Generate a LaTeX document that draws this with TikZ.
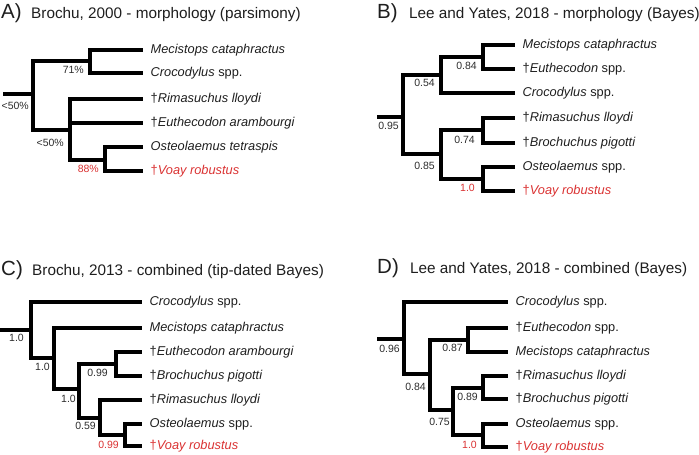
\documentclass[tikz,border=0pt]{standalone}
\usepackage{fontspec}
\setmainfont{Liberation Sans}
\definecolor{txt}{RGB}{30,30,30}
\definecolor{sup}{RGB}{45,45,45}
\definecolor{redv}{RGB}{218,50,50}
\tikzset{
  br/.style={line width=4.3pt,black,line join=miter},
  tip/.style={anchor=west,inner sep=0pt,xshift=7.5pt,text=txt,font=\fontsize{12.8}{14}\selectfont},
  tipred/.style={tip,text=redv},
  sv/.style={anchor=east,inner sep=0pt,text=sup,font=\fontsize{10.5}{12}\selectfont},
  svred/.style={sv,text=redv},
  ttl/.style={anchor=base west,inner sep=0pt,text=txt,font=\fontsize{15.3}{17}\selectfont},
  lett/.style={anchor=base west,inner sep=0pt,text=txt,font=\fontsize{20.5}{22}\selectfont},
}
\begin{document}
\begin{tikzpicture}[x=1pt,y=-1pt]
\useasboundingbox (0,0) rectangle (699,455);
% ---------------- Panel A ----------------
\node[lett] (LA) at (1,18) {A)};
\node[ttl] (TA) at (31,18) {Brochu, 2000 - morphology (parsimony)};
\coordinate (a0) at (3,94);
\coordinate (aR) at (33,94);
\coordinate (aT) at (90,61);
\coordinate (aT1) at (143,50);
\coordinate (aT2) at (143,73);
\coordinate (aB) at (70,130);
\coordinate (aB1) at (143,99);
\coordinate (aB2) at (143,123);
\coordinate (aBB) at (105,160);
\coordinate (aB3) at (143,147);
\coordinate (aB4) at (143,171);
\draw[br] (a0) -- (aR) |- (aT);
\draw[br] (aR) |- (aB);
\draw[br] (aT) |- (aT1);
\draw[br] (aT) |- (aT2);
\draw[br] (aB) |- (aB1);
\draw[br] (aB) |- (aB2);
\draw[br] (aB) |- (aBB);
\draw[br] (aBB) |- (aB3);
\draw[br] (aBB) |- (aB4);
\node[tip] (ta1) at (aT1) {\itshape Mecistops cataphractus};
\node[tip] (ta2) at (aT2) {\textit{Crocodylus} spp.};
\node[tip] (ta3) at (aB1) {†\textit{Rimasuchus lloydi}};
\node[tip] (ta4) at (aB2) {†\textit{Euthecodon arambourgi}};
\node[tip] (ta5) at (aB3) {\itshape Osteolaemus tetraspis};
\node[tipred] (ta6) at (aB4) {†\textit{Voay robustus}};
\node[sv] (sa1) at (84,70) {71\%};
\node[sv] (sa2) at (29,106) {<50\%};
\node[sv] (sa3) at (64,143) {<50\%};
\node[svred] (sa4) at (99,169) {88\%};
% ---------------- Panel B ----------------
\node[lett] (LB) at (377,18) {B)};
\node[ttl] (TB) at (409,18) {Lee and Yates, 2018 - morphology (Bayes)};
\coordinate (b0) at (377,117);
\coordinate (bR) at (403,117);
\coordinate (bT) at (441,75);
\coordinate (bTT) at (483,57);
\coordinate (bt1) at (515,45);
\coordinate (bt2) at (515,69);
\coordinate (bt3) at (515,93);
\coordinate (bB) at (441,154);
\coordinate (bB1) at (483,130);
\coordinate (bt4) at (515,118);
\coordinate (bt5) at (515,143);
\coordinate (bB2) at (483,179);
\coordinate (bt6) at (515,167);
\coordinate (bt7) at (515,191);
\draw[br] (b0) -- (bR) |- (bT);
\draw[br] (bR) |- (bB);
\draw[br] (bT) |- (bTT);
\draw[br] (bT) |- (bt3);
\draw[br] (bTT) |- (bt1);
\draw[br] (bTT) |- (bt2);
\draw[br] (bB) |- (bB1);
\draw[br] (bB) |- (bB2);
\draw[br] (bB1) |- (bt4);
\draw[br] (bB1) |- (bt5);
\draw[br] (bB2) |- (bt6);
\draw[br] (bB2) |- (bt7);
\node[tip] (tb1) at (bt1) {\itshape Mecistops cataphractus};
\node[tip] (tb2) at (bt2) {†\textit{Euthecodon} spp.};
\node[tip] (tb3) at (bt3) {\textit{Crocodylus} spp.};
\node[tip] (tb4) at (bt4) {†\textit{Rimasuchus lloydi}};
\node[tip] (tb5) at (bt5) {†\textit{Brochuchus pigotti}};
\node[tip] (tb6) at (bt6) {\textit{Osteolaemus} spp.};
\node[tipred] (tb7) at (bt7) {†\textit{Voay robustus}};
\node[sv] (sb1) at (477,66) {0.84};
\node[sv] (sb2) at (435,83) {0.54};
\node[sv] (sb3) at (399,126) {0.95};
\node[sv] (sb4) at (475,140) {0.74};
\node[sv] (sb5) at (435,166) {0.85};
\node[svred] (sb6) at (475,188) {1.0};
% ---------------- Panel C ----------------
\node[lett] (LC) at (1,275) {C)};
\node[ttl] (TC) at (32,275) {Brochu, 2013 - combined (tip-dated Bayes)};
\coordinate (c0) at (0,330);
\coordinate (cR) at (31,330);
\coordinate (ct1) at (142,302);
\coordinate (c1) at (54,358);
\coordinate (ct2) at (142,328);
\coordinate (c2) at (79,389);
\coordinate (c3) at (116,364);
\coordinate (ct3) at (142,352);
\coordinate (ct4) at (142,376);
\coordinate (c4) at (100,418);
\coordinate (ct5) at (142,400);
\coordinate (c5) at (125,435);
\coordinate (ct6) at (142,424);
\coordinate (ct7) at (142,446);
\draw[br] (c0) -- (cR) |- (ct1);
\draw[br] (cR) |- (c1);
\draw[br] (c1) |- (ct2);
\draw[br] (c1) |- (c2);
\draw[br] (c2) |- (c3);
\draw[br] (c2) |- (c4);
\draw[br] (c3) |- (ct3);
\draw[br] (c3) |- (ct4);
\draw[br] (c4) |- (ct5);
\draw[br] (c4) |- (c5);
\draw[br] (c5) |- (ct6);
\draw[br] (c5) |- (ct7);
\node[tip] (tc1) at (ct1) {\textit{Crocodylus} spp.};
\node[tip] (tc2) at (ct2) {\itshape Mecistops cataphractus};
\node[tip] (tc3) at (ct3) {†\textit{Euthecodon arambourgi}};
\node[tip] (tc4) at (ct4) {†\textit{Brochuchus pigotti}};
\node[tip] (tc5) at (ct5) {†\textit{Rimasuchus lloydi}};
\node[tip] (tc6) at (ct6) {\textit{Osteolaemus} spp.};
\node[tipred] (tc7) at (ct7) {†\textit{Voay robustus}};
\node[sv] (sc1) at (24,338) {1.0};
\node[sv] (sc2) at (50,367) {1.0};
\node[sv] (sc3) at (108,373) {0.99};
\node[sv] (sc4) at (76,399) {1.0};
\node[sv] (sc5) at (96,426) {0.59};
\node[svred] (sc6) at (119,445) {0.99};
% ---------------- Panel D ----------------
\node[lett] (LD) at (377,273) {D)};
\node[ttl] (TD) at (410,273) {Lee and Yates, 2018 - combined (Bayes)};
\coordinate (d0) at (377,339);
\coordinate (dR) at (404,339);
\coordinate (dt1) at (508,302);
\coordinate (d1) at (430,374);
\coordinate (d2) at (468,340);
\coordinate (dt2) at (508,328);
\coordinate (dt3) at (508,352);
\coordinate (d3) at (453,410);
\coordinate (d4) at (483,388);
\coordinate (dt4) at (508,376);
\coordinate (dt5) at (508,399);
\coordinate (d5) at (483,435);
\coordinate (dt6) at (508,424);
\coordinate (dt7) at (508,447);
\draw[br] (d0) -- (dR) |- (dt1);
\draw[br] (dR) |- (d1);
\draw[br] (d1) |- (d2);
\draw[br] (d1) |- (d3);
\draw[br] (d2) |- (dt2);
\draw[br] (d2) |- (dt3);
\draw[br] (d3) |- (d4);
\draw[br] (d3) |- (d5);
\draw[br] (d4) |- (dt4);
\draw[br] (d4) |- (dt5);
\draw[br] (d5) |- (dt6);
\draw[br] (d5) |- (dt7);
\node[tip] (td1) at (dt1) {\textit{Crocodylus} spp.};
\node[tip] (td2) at (dt2) {†\textit{Euthecodon} spp.};
\node[tip] (td3) at (dt3) {\itshape Mecistops cataphractus};
\node[tip] (td4) at (dt4) {†\textit{Rimasuchus lloydi}};
\node[tip] (td5) at (dt5) {†\textit{Brochuchus pigotti}};
\node[tip] (td6) at (dt6) {\textit{Osteolaemus} spp.};
\node[tipred] (td7) at (dt7) {†\textit{Voay robustus}};
\node[sv] (sd1) at (400,349) {0.96};
\node[sv] (sd2) at (463,348) {0.87};
\node[sv] (sd3) at (426,387) {0.84};
\node[sv] (sd4) at (478,397) {0.89};
\node[sv] (sd5) at (450,422) {0.75};
\node[svred] (sd6) at (477,445) {1.0};
\end{tikzpicture}
\end{document}
